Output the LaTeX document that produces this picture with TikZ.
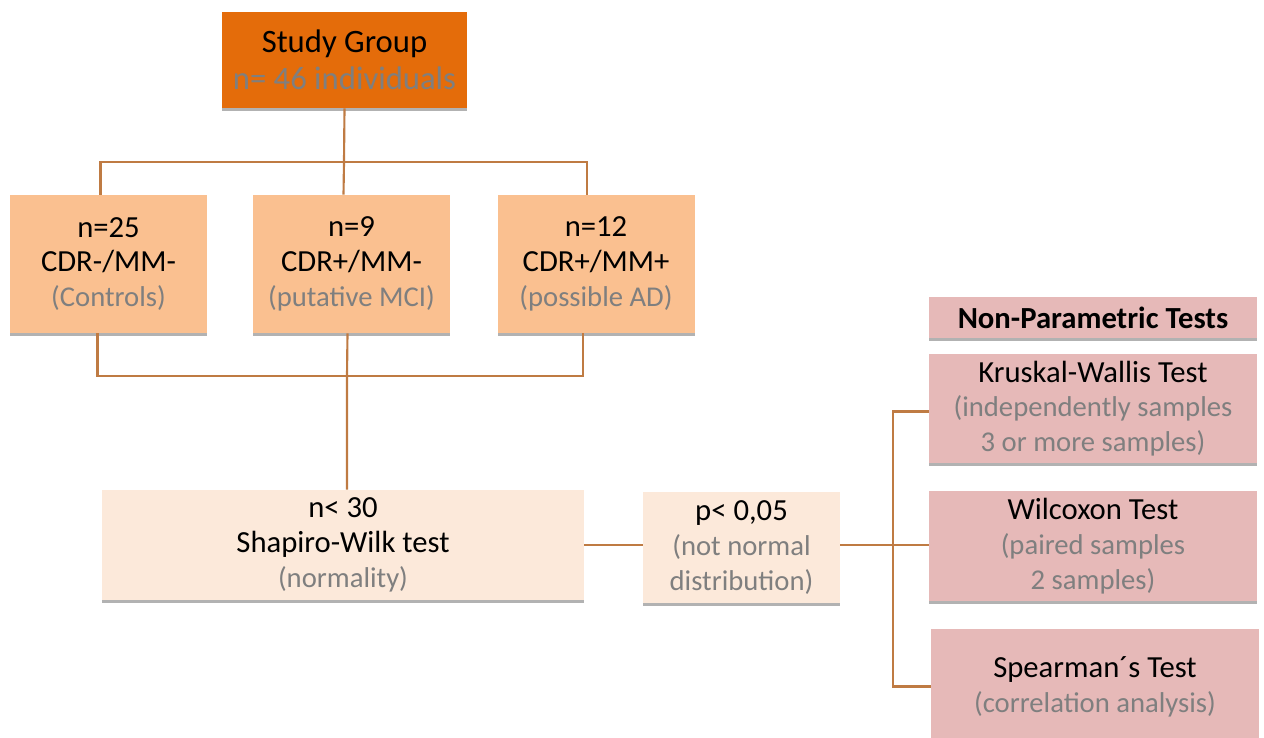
\documentclass[tikz,border=0pt]{standalone}
\usepackage{fontspec}
\setmainfont{Carlito}
\usepackage{xcolor}
\usetikzlibrary{shadows}

\definecolor{darkorange}{HTML}{E46C0A}
\definecolor{lightorange}{HTML}{FAC090}
\definecolor{paleorange}{HTML}{FCE9DA}
\definecolor{rosebox}{HTML}{E6B9B8}
\definecolor{linkbrown}{HTML}{BF7B43}
\definecolor{txtgray}{HTML}{7F7F7F}

% gray remark line under a box title
\newcommand{\remark}[1]{{\fontsize{21.5}{26}\selectfont\textcolor{txtgray}{#1}}}

\begin{document}
\begin{tikzpicture}[x=0.75pt, y=-0.75pt,
    box/.style={align=center, inner sep=0pt,
        font=\fontsize{23}{26}\selectfont,
        drop shadow={shadow xshift=0pt, shadow yshift=-2pt, opacity=0.3, fill=black}},
    groupbox/.style={box, fill=lightorange, minimum width=197*0.75pt, minimum height=138*0.75pt},
    testbox/.style={box, fill=rosebox, minimum width=328*0.75pt},
    link/.style={draw=linkbrown, line width=1.6pt}]
    \def\u{0.75pt}

    \useasboundingbox (0,0) rectangle (1264,738);

    % study group
    \node[box, fill=darkorange, minimum width=245*\u, minimum height=96*\u,
        font=\fontsize{24.5}{28}\selectfont] (study) at (344.5,60)
        {Study Group\\\textcolor{txtgray}{n= 46 individuals}};

    % the three groups
    \node[groupbox] (ctrl) at (108.5,264) {n=25\\CDR-/MM-\\\remark{(Controls)}};
    \node[groupbox] (mci) at (351.5,264) {n=9\\CDR+/MM-\\\remark{(putative MCI)}};
    \node[groupbox] (ad) at (596,264) {n=12\\CDR+/MM+\\\remark{(possible AD)}};

    % normality
    \node[box, fill=paleorange, minimum width=482*\u, minimum height=110*\u] (shapiro) at (343,545)
        {n< 30\\Shapiro-Wilk test\\\remark{(normality)}};
    \node[box, fill=paleorange, minimum width=197*\u, minimum height=111*\u] (pval) at (741.5,547.5)
        {p< 0,05\\\remark{(not normal}\\\remark{distribution)}};

    % non-parametric tests
    \node[testbox, minimum height=41*\u, font=\fontsize{23}{26}\selectfont\bfseries] (header) at (1093,317.5)
        {Non-Parametric Tests};
    \node[testbox, minimum height=109*\u] (kruskal) at (1093,408.5)
        {Kruskal-Wallis Test\\\remark{(independently samples}\\\remark{3 or more samples)}};
    \node[testbox, minimum height=110*\u] (wilcoxon) at (1093,546)
        {Wilcoxon Test\\\remark{(paired samples}\\\remark{2 samples)}};
    \node[testbox, minimum height=115*\u] (spearman) at (1095,686.5)
        {Spearman´s Test\\\remark{(correlation analysis)}};

    \coordinate (split) at (344,162);
    \coordinate (merge) at (347,376);
    \coordinate (fork) at (893,545);

    \draw[link] (study.south) -- (split);
    \draw[link] ([xshift=-8*\u]ctrl.north) |- (split) -| ([xshift=-9*\u]ad.north);
    \draw[link] (split) -- ([xshift=-8*\u]mci.north);

    \draw[link] ([xshift=-11*\u]ctrl.south) |- (merge) -| ([xshift=-13*\u]ad.south);
    \draw[link] ([xshift=-4*\u]mci.south) -- (merge) -- (merge |- shapiro.north);

    \draw[link] (shapiro.east) -- (shapiro.east -| pval.west);
    \draw[link] (pval.east |- fork) -- (fork) -- (fork -| wilcoxon.west);
    \draw[link] ([yshift=-3*\u]kruskal.west) -| (fork) |- (spearman.west);
\end{tikzpicture}
\end{document}
